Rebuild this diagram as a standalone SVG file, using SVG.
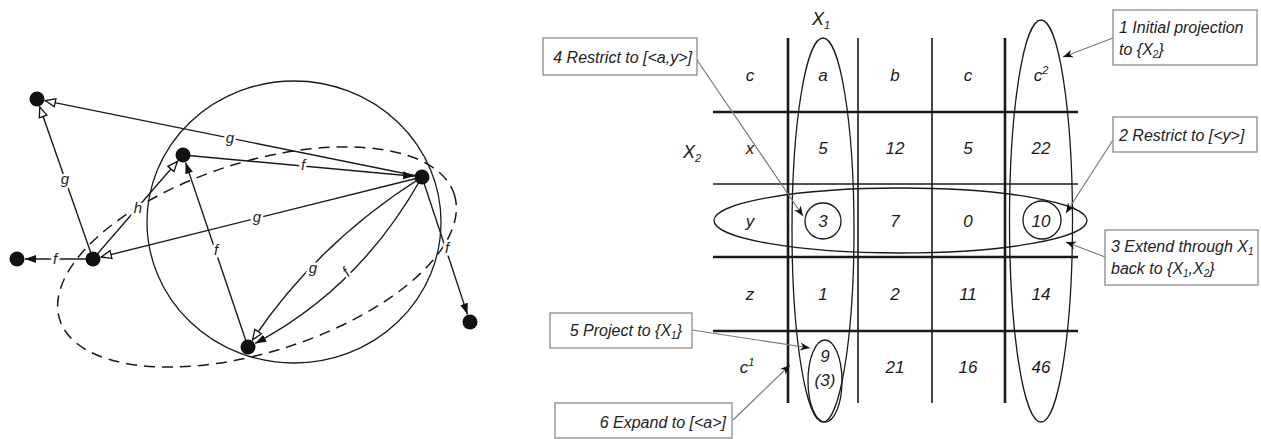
<svg xmlns="http://www.w3.org/2000/svg" width="1261" height="439" viewBox="0 0 1261 439">
<defs>
<style>
.e{fill:none;stroke:#1a1a1a;stroke-width:1.4}
.n{fill:#111}
.lb{font-family:"Liberation Sans",Arial,sans-serif;font-style:italic;font-size:15px;fill:#222;text-anchor:middle;stroke:#fff;stroke-width:5;paint-order:stroke}
.gl{stroke:#1a1a1a;stroke-width:1.6}
.tk{stroke-width:2.6}
.cell{font-family:"Liberation Sans",Arial,sans-serif;font-style:italic;font-size:17px;fill:#1a1a1a;text-anchor:middle}
.ov{fill:none;stroke:#1a1a1a;stroke-width:1.3}
.box{fill:#fff;stroke:#8a8a8a;stroke-width:1.3}
.bt{font-family:"Liberation Sans",Arial,sans-serif;font-style:italic;font-size:16px;fill:#222}
.ld{fill:none;stroke:#7a7a7a;stroke-width:1.2}
.ax{font-family:"Liberation Sans",Arial,sans-serif;font-style:italic;font-size:18px;fill:#1a1a1a}
</style>
<marker id="fa" markerUnits="userSpaceOnUse" markerWidth="13" markerHeight="10" refX="11" refY="5" orient="auto"><path d="M0,1 L11,5 L0,9 Z" fill="#111"/></marker>
<marker id="ha" markerUnits="userSpaceOnUse" markerWidth="13" markerHeight="11" refX="11.5" refY="5.5" orient="auto"><path d="M1,1.5 L11,5.5 L1,9.5 Z" fill="#fff" stroke="#111" stroke-width="1.3"/></marker>
<marker id="la" markerUnits="userSpaceOnUse" markerWidth="11" markerHeight="9" refX="10" refY="4.5" orient="auto"><path d="M0,0.5 L10,4.5 L0,8.5 L3,4.5 Z" fill="#111"/></marker>
</defs>
<rect width="1261" height="439" fill="#fff"/>

<g id="regions">
<ellipse cx="294" cy="222" rx="147" ry="141" class="ov" stroke-width="1.4"/>
<ellipse cx="257" cy="257" rx="207" ry="95" transform="rotate(-17.6 257 257)" fill="none" stroke="#1a1a1a" stroke-width="1.5" stroke-dasharray="11 7"/>
</g>

<g id="connectors">
<path class="e" d="M422,177 L44.8,100.6" marker-end="url(#ha)"/>
<path class="e" d="M93,259 L39.6,106.6" marker-end="url(#ha)"/>
<path class="e" d="M183,155 L414,176.3" marker-end="url(#fa)"/>
<path class="e" d="M422,177 L100.8,257.1" marker-end="url(#ha)"/>
<path class="e" d="M93,259 L177.8,161" marker-end="url(#ha)"/>
<path class="e" d="M93,259 L25,259" marker-end="url(#fa)"/>
<path class="e" d="M248,347 L185.6,162.6" marker-end="url(#fa)"/>
<path class="e" d="M422,177 Q316.8,243.4 252.3,340.3" marker-end="url(#ha)"/>
<path class="e" d="M422,177 Q360,288 255.2,343.4" marker-end="url(#fa)"/>
<path class="e" d="M422,177 L467.5,314.4" marker-end="url(#fa)"/>
<text class="lb" x="230" y="143">g</text>
<text class="lb" x="65" y="184">g</text>
<text class="lb" x="303" y="170">f</text>
<text class="lb" x="257" y="222">g</text>
<text class="lb" x="138" y="213">h</text>
<text class="lb" x="55" y="264">f</text>
<text class="lb" x="216" y="255">f</text>
<text class="lb" x="313" y="273">g</text>
<text class="lb" x="347" y="277" transform="rotate(-45 347 273)">f</text>
<text class="lb" x="447" y="253">f</text>
</g>

<g id="n1"><circle class="n" cx="37" cy="99" r="7.5"/></g>
<g id="n2"><circle class="n" cx="183" cy="155" r="7.5"/></g>
<g id="n3"><circle class="n" cx="422" cy="177" r="7.5"/></g>
<g id="n4"><circle class="n" cx="93" cy="259" r="7.5"/></g>
<g id="n5"><circle class="n" cx="17" cy="259" r="7.5"/></g>
<g id="n6"><circle class="n" cx="248" cy="347" r="7.5"/></g>
<g id="n7"><circle class="n" cx="470" cy="322" r="7.5"/></g>

<g id="table">
<line class="gl tk" x1="788" y1="38" x2="788" y2="403"/>
<line class="gl" x1="858" y1="38" x2="858" y2="403"/>
<line class="gl" x1="932" y1="38" x2="932" y2="403"/>
<line class="gl tk" x1="1005" y1="38" x2="1005" y2="403"/>
<line class="gl tk" x1="713" y1="112" x2="1078" y2="112"/>
<line class="gl" x1="713" y1="184" x2="1078" y2="184"/>
<line class="gl tk" x1="713" y1="257" x2="1078" y2="257"/>
<line class="gl tk" x1="713" y1="331" x2="1078" y2="331"/>

<text class="ax" x="812" y="25">X<tspan font-size="11" dy="4">1</tspan></text>
<text class="ax" x="683" y="158">X<tspan font-size="11" dy="4">2</tspan></text>

<text class="cell" x="750" y="81">c</text>
<text class="cell" x="823" y="81">a</text>
<text class="cell" x="895" y="81">b</text>
<text class="cell" x="968" y="81">c</text>
<text class="cell" x="1041" y="81">c<tspan font-size="11" dy="-7">2</tspan></text>

<text class="cell" x="750" y="154">x</text>
<text class="cell" x="823" y="154">5</text>
<text class="cell" x="895" y="154">12</text>
<text class="cell" x="968" y="154">5</text>
<text class="cell" x="1041" y="154">22</text>

<text class="cell" x="750" y="227">y</text>
<text class="cell" x="823" y="227">3</text>
<text class="cell" x="895" y="227">7</text>
<text class="cell" x="968" y="227">0</text>
<text class="cell" x="1041" y="227">10</text>

<text class="cell" x="750" y="300">z</text>
<text class="cell" x="823" y="300">1</text>
<text class="cell" x="895" y="300">2</text>
<text class="cell" x="968" y="300">11</text>
<text class="cell" x="1041" y="300">14</text>

<text class="cell" x="747" y="373">c<tspan font-size="11" dy="-7">1</tspan></text>
<text class="cell" x="825" y="362">9</text>
<text class="cell" x="825" y="386">(3)</text>
<text class="cell" x="895" y="373">21</text>
<text class="cell" x="968" y="373">16</text>
<text class="cell" x="1041" y="373">46</text>

<ellipse class="ov" cx="823" cy="230" rx="31" ry="192"/>
<ellipse class="ov" cx="1041" cy="221" rx="31.5" ry="201"/>
<ellipse class="ov" cx="900.5" cy="220.5" rx="186.5" ry="32.5"/>
<circle class="ov" cx="823" cy="221" r="18"/>
<circle class="ov" cx="1042" cy="220" r="19"/>
<ellipse class="ov" cx="825" cy="381" rx="17" ry="41"/>
</g>

<g id="leaders">
<path class="ld" d="M697,60 L803,216" marker-end="url(#la)"/>
<path class="ld" d="M1113,38 L1063,57" marker-end="url(#la)"/>
<path class="ld" d="M1113,140 L1066,213" marker-end="url(#la)"/>
<path class="ld" d="M1105,257 L1066,242" marker-end="url(#la)"/>
<path class="ld" d="M692,330 L810,348" marker-end="url(#la)"/>
<path class="ld" d="M733,420 L790,365" marker-end="url(#la)"/>
</g>

<g id="box1"><rect class="box" x="1113" y="10" width="144" height="55"/>
<text class="bt" x="1119" y="33">1 Initial projection</text>
<text class="bt" x="1119" y="55">to {X<tspan font-size="10" dy="3">2</tspan><tspan dy="-3">}</tspan></text></g>
<g id="box2"><rect class="box" x="1113" y="117" width="144" height="35"/>
<text class="bt" x="1119" y="141">2 Restrict to [&lt;y&gt;]</text></g>
<g id="box3"><rect class="box" x="1105" y="230" width="153" height="55"/>
<text class="bt" x="1111" y="252">3 Extend through X<tspan font-size="10" dy="3">1</tspan></text>
<text class="bt" x="1111" y="274">back to {X<tspan font-size="10" dy="3">1</tspan><tspan dy="-3">,X</tspan><tspan font-size="10" dy="3">2</tspan><tspan dy="-3">}</tspan></text></g>
<g id="box4"><rect class="box" x="543" y="38" width="154" height="37"/>
<text class="bt" x="692" y="63" text-anchor="end">4 Restrict to [&lt;a,y&gt;]</text></g>
<g id="box5"><rect class="box" x="550" y="313" width="142" height="35"/>
<text class="bt" x="682" y="336" text-anchor="end">5 Project to {X<tspan font-size="10" dy="3">1</tspan><tspan dy="-3">}</tspan></text></g>
<g id="box6"><rect class="box" x="555" y="403" width="177" height="35"/>
<text class="bt" x="726" y="428" text-anchor="end">6 Expand to [&lt;a&gt;]</text></g>
</svg>
